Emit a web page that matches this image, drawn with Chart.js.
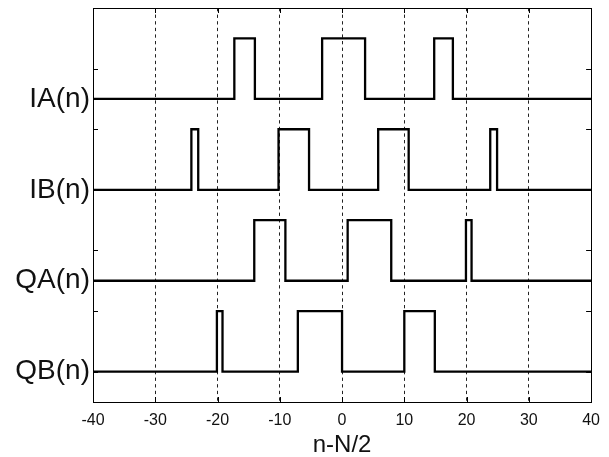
<!DOCTYPE html>
<html>
<head>
<meta charset="utf-8">
<script src="https://cdn.jsdelivr.net/npm/chart.js@4/dist/chart.umd.min.js"></script>
<style>
  html, body { margin: 0; padding: 0; background: #fff; }
  #wrap { width: 609px; height: 457px; }
</style>
</head>
<body>
<div id="wrap"><canvas id="c" width="609" height="457"></canvas></div>
<script>
// Signal names (y-axis labels) and the level each trace rests on
const signalNames = ['IA(n)', 'IB(n)', 'QA(n)', 'QB(n)'];
const baseLevels = [4.5, 3, 1.5, 0];
const pulseHeight = 1;

// Rising / falling edge positions (n - N/2) of each signal, in pairs
const iaEdges = [-17.3, -14.0, -3.2, 3.7, 14.8, 17.8];
const ibEdges = [-24.2, -23.1, -10.2, -5.3, 5.8, 10.7, 23.8, 24.9];
const qaEdges = [-14.1, -9.1, 0.9, 7.9, 19.9, 20.8];
const qbEdges = [-20.1, -19.2, -7.1, 0.0, 10.0, 14.9];
const allEdges = [iaEdges, ibEdges, qaEdges, qbEdges];

// Axis ranges and ticks
const xMin = -40, xMax = 40, xStep = 10;
const yMin = -0.5, yMax = 6;
const yTickMarks = [0, 1, 2, 3, 4, 5, 6];

// Turn an edge list into a rectangular pulse train
function pulseTrain(edges, base) {
  const pts = [{ x: xMin, y: base }];
  for (let i = 0; i < edges.length; i += 2) {
    const r = edges[i], f = edges[i + 1];
    pts.push({ x: r, y: base }, { x: r, y: base + pulseHeight },
             { x: f, y: base + pulseHeight }, { x: f, y: base });
  }
  pts.push({ x: xMax, y: base });
  return pts;
}

const datasets = signalNames.map((name, i) => ({
  label: name,
  data: pulseTrain(allEdges[i], baseLevels[i]),
  borderColor: '#000',
  borderWidth: 2.3,
  borderJoinStyle: 'miter',
  pointRadius: 0,
  tension: 0,
  fill: false
}));

// Box around the plot plus short inward tick marks on all four sides
const boxAndTicks = {
  id: 'boxAndTicks',
  afterDatasetsDraw(chart) {
    const { ctx, chartArea: a, scales } = chart;
    const tl = 5;
    ctx.save();
    ctx.strokeStyle = '#000';
    ctx.lineWidth = 1;
    ctx.setLineDash([]);
    ctx.beginPath();
    yTickMarks.forEach(v => {
      const y = Math.round(scales.y.getPixelForValue(v)) + 0.5;
      ctx.moveTo(a.left, y); ctx.lineTo(a.left + tl, y);
      ctx.moveTo(a.right, y); ctx.lineTo(a.right - tl, y);
    });
    for (let v = xMin; v <= xMax; v += xStep) {
      const x = Math.round(scales.x.getPixelForValue(v)) + 0.5;
      ctx.moveTo(x, a.top); ctx.lineTo(x, a.top + tl);
      ctx.moveTo(x, a.bottom); ctx.lineTo(x, a.bottom - tl);
    }
    ctx.stroke();
    ctx.strokeRect(Math.round(a.left) + 0.5, Math.round(a.top) + 0.5,
                   Math.round(a.right - a.left), Math.round(a.bottom - a.top));
    ctx.restore();
  }
};

new Chart(document.getElementById('c'), {
  type: 'line',
  data: { datasets },
  options: {
    responsive: false,
    animation: false,
    devicePixelRatio: 1,
    layout: { padding: { left: 0, right: 17, top: 8, bottom: 0 } },
    plugins: { legend: { display: false }, tooltip: { enabled: false } },
    scales: {
      x: {
        type: 'linear',
        min: xMin, max: xMax,
        ticks: {
          stepSize: xStep,
          color: '#111',
          padding: 9,
          font: { family: 'Liberation Sans, Arial, sans-serif', size: 16 }
        },
        grid: { color: '#222', lineWidth: 1, drawTicks: false },
        border: { display: true, color: '#000', width: 1, dash: [3.3, 3.3] },
        title: {
          display: true,
          text: 'n-N/2',
          color: '#111',
          padding: { top: 0, bottom: -3 },
          font: { family: 'Liberation Sans, Arial, sans-serif', size: 24 }
        },
        afterFit(s) { s.height = 55; }
      },
      y: {
        type: 'linear',
        min: yMin, max: yMax,
        afterBuildTicks(s) {
          s.ticks = baseLevels.map(v => ({ value: v }));
        },
        ticks: {
          color: '#111',
          padding: 3,
          font: { family: 'Liberation Sans, Arial, sans-serif', size: 28 },
          callback(value) {
            const idx = baseLevels.indexOf(value);
            return idx >= 0 ? signalNames[idx] : '';
          }
        },
        grid: { display: false, drawTicks: false },
        border: { display: true, color: '#000', width: 1 },
        afterFit(s) {
          s.width = 93;
          // labels sit well inside the range, so no overflow room is needed
          s.paddingTop = 0;
          s.paddingBottom = 0;
        }
      }
    }
  },
  plugins: [boxAndTicks]
});
</script>
</body>
</html>
